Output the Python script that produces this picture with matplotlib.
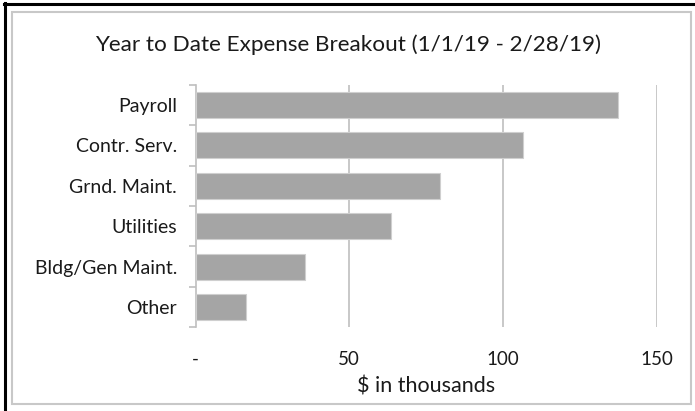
import matplotlib
matplotlib.use("Agg")
import matplotlib.pyplot as plt
from matplotlib.patches import Rectangle
from matplotlib.lines import Line2D

categories = ["Payroll", "Contr. Serv.", "Grnd. Maint.", "Utilities", "Bldg/Gen Maint.", "Other"]
values = [137.6, 106.6, 79.5, 63.6, 35.6, 16.5]
xticks = [0, 50, 100, 150]
xticklabels = ["-", "50", "100", "150"]
title = "Year to Date Expense Breakout (1/1/19 - 2/28/19)"
xlabel = "$ in thousands"

W, H = 695, 411
plt.rcParams['font.family'] = ['Lato', 'DejaVu Sans']
fig = plt.figure(figsize=(W / 100, H / 100), dpi=100)

def fx(px):
    return px / W

def fy(py):
    return 1 - py / H

# outer frame (black left/top) and inner light-gray chart border
fig.add_artist(Line2D([fx(5), fx(5)], [fy(3.5), 0], color='black', lw=2.2, transform=fig.transFigure))
fig.add_artist(Line2D([fx(4), 1], [fy(4), fy(4)], color='black', lw=2.2, transform=fig.transFigure))
fig.add_artist(Rectangle((fx(12), fy(404)), fx(691) - fx(12), fy(12) - fy(404),
                         fill=False, edgecolor='#c8c8c8', lw=1.5, transform=fig.transFigure))

left, right = fx(195.7), fx(656.5)
bottom, top = fy(327.3), fy(84.7)
ax = fig.add_axes([left, bottom, right - left, top - bottom])

n = len(categories)
ypos = list(range(n))[::-1]
ax.barh(ypos, values, height=0.64, color='#a5a5a5', edgecolor='#cfcfcf', linewidth=0.8, zorder=3)

ax.set_xlim(0, 150)
ax.set_ylim(-0.5, n - 0.5)
ax.set_xticks(xticks)
ax.set_xticklabels(xticklabels, fontsize=13.5, color='#1a1a1a')
ax.tick_params(axis='x', length=0, pad=17)

ax.set_yticks(ypos)
ax.set_yticklabels(categories, fontsize=14, color='#1a1a1a')
ax.tick_params(axis='y', length=0, pad=13.5)
# band-boundary tick marks on the category axis
ax.set_yticks([i - 0.5 for i in range(n + 1)], minor=True)
ax.tick_params(axis='y', which='minor', length=5, color='#bfbfbf', width=1.2)

for x in xticks[1:]:
    ax.axvline(x, color='#bfbfbf', lw=1.2, zorder=1)

for s in ['top', 'right', 'bottom']:
    ax.spines[s].set_visible(False)
ax.spines['left'].set_color('#bfbfbf')
ax.spines['left'].set_linewidth(1.2)

fig.text(fx(348), fy(45), title, ha='center', va='center', fontsize=16.2, color='#1a1a1a')
fig.text(fx(426), fy(386), xlabel, ha='center', va='center', fontsize=15.5, color='#1a1a1a')

fig.savefig("out.png", dpi=100)
